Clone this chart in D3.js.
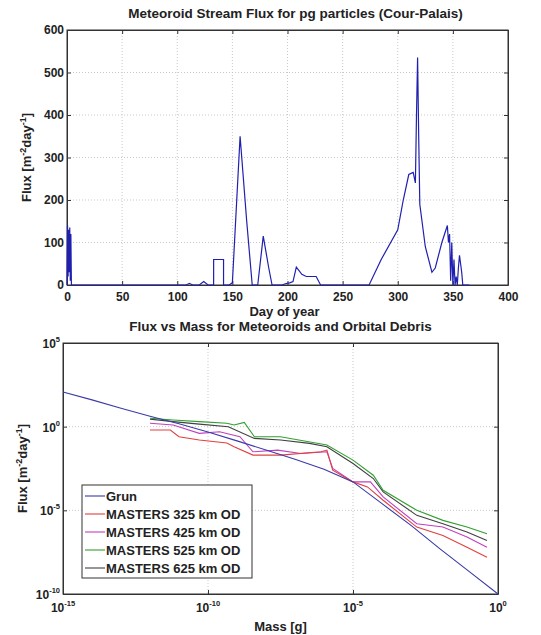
<!DOCTYPE html>
<html><head><meta charset="utf-8">
<script src="https://cdn.jsdelivr.net/npm/d3@7"></script>
<style>
body{margin:0;background:#fff;}
text{font-family:"Liberation Sans",Arial,sans-serif;font-weight:bold;fill:#222;}
</style></head>
<body><svg id="c" width="541" height="635"></svg>
<script>
// ---- Top chart data: meteoroid stream flux ----
const streamDays = [0,0.5,1,1.5,2,2.5,3,3.5,4,
 108,111,114,120,124,128,
 133,133,142,142,
 147,150,157,163,168,
 173,178,183,186,
 195,198,202,205,208,213,217,226,230,
 274,285,300,305,310,314,316,317,318,319,320,325,331,334,340,345,346,347,348,349,350,351,352,353,354,355,356,357,358,359,365];
const streamFlux = [0,140,20,130,30,135,10,120,0,
 0,4,0,0,8,0,
 0,60,60,0,
 0,5,350,150,0,
 0,115,40,0,
 0,3,5,8,42,25,20,20,0,
 0,60,130,200,260,265,240,400,535,350,190,90,30,40,100,140,100,120,10,100,0,60,0,20,0,40,70,50,30,0,0];
const dayTicks = [0,50,100,150,200,250,300,350,400];
const fluxTicks = [0,100,200,300,400,500,600];

// ---- Bottom chart data: flux vs mass (log10 values) ----
const seriesNames = ["Grun","MASTERS 325 km OD","MASTERS 425 km OD","MASTERS 525 km OD","MASTERS 625 km OD"];
const grunLogMass = [-15,-14,-13,-12,-11,-10,-9,-8,-7,-6,-5,-4,-3,-2,-1,0];
const grunLogFlux = [2.07,1.6,1.1,0.62,0.17,-0.32,-0.85,-1.4,-1.95,-2.55,-3.3,-4.6,-5.9,-7.3,-8.65,-10];
const m325LogMass = [-12,-11.3,-11.0,-10.3,-9.35,-9.1,-8.45,-7.5,-6.1,-5.9,-5.7,-5,-4.5,-3.96,-2.8,-1.9,-1.07,-0.38];
const m325LogFlux = [-0.2,-0.2,-0.6,-0.8,-0.98,-1.2,-1.7,-1.7,-1.5,-1.4,-2.6,-3.3,-3.6,-4.4,-6.0,-6.5,-7.2,-7.8];
const m425LogMass = [-12,-11.2,-10.3,-9.6,-8.9,-8.45,-7.6,-6.8,-5.9,-5.7,-5,-4.4,-3.96,-2.8,-1.9,-1.07,-0.38];
const m425LogFlux = [0.2,0.1,-0.4,-0.3,-0.6,-1.5,-1.4,-1.6,-1.5,-2.5,-3.3,-3.3,-4.2,-5.8,-6.0,-6.6,-7.2];
const m525LogMass = [-12,-11.2,-10.3,-9.35,-9.1,-8.75,-8.4,-7.5,-5.9,-5,-4.3,-3.96,-2.8,-1.9,-1.07,-0.38];
const m525LogFlux = [0.5,0.4,0.3,0.2,0.1,0.25,-0.6,-0.6,-1.1,-2.0,-2.9,-3.8,-5.0,-5.6,-6.0,-6.4];
const m625LogMass = [-12,-11.2,-10.3,-9.3,-8.4,-7.5,-6.5,-5.9,-5,-4.3,-3.96,-2.8,-1.9,-1.07,-0.38];
const m625LogFlux = [0.45,0.3,0.15,0.0,-0.7,-0.8,-1.0,-1.2,-2.2,-3.1,-3.9,-5.3,-5.8,-6.3,-6.8];
const massTickExp = [-15,-10,-5,0];
const fluxTickExp = [5,0,-5,-10];

const svg = d3.select("#c");
const TICK_FS = 12, LABEL_FS = 13, TITLE_FS = 13.5;

// ================= TOP CHART =================
const T = {l:67, r:508, t:30, b:285};
const xT = d3.scaleLinear().domain([0,400]).range([T.l,T.r]);
const yT = d3.scaleLinear().domain([0,600]).range([T.b,T.t]);
const gT = svg.append("g");
gT.selectAll(".gx").data(dayTicks.slice(1,-1)).enter().append("line")
 .attr("x1",d=>xT(d)).attr("x2",d=>xT(d)).attr("y1",T.t).attr("y2",T.b)
 .attr("stroke","#bbb").attr("stroke-dasharray","1,2").attr("stroke-width",0.8);
gT.selectAll(".gy").data(fluxTicks.slice(1,-1)).enter().append("line")
 .attr("y1",d=>yT(d)).attr("y2",d=>yT(d)).attr("x1",T.l).attr("x2",T.r)
 .attr("stroke","#bbb").attr("stroke-dasharray","1,2").attr("stroke-width",0.8);
gT.append("g").attr("transform",`translate(0,${T.b})`)
 .call(d3.axisBottom(xT).tickValues(dayTicks).tickSizeInner(-4).tickSizeOuter(0).tickPadding(7));
gT.append("g").attr("transform",`translate(0,${T.t})`)
 .call(d3.axisTop(xT).tickValues(dayTicks).tickSizeInner(-4).tickSizeOuter(0).tickFormat(""));
gT.append("g").attr("transform",`translate(${T.l},0)`)
 .call(d3.axisLeft(yT).tickValues(fluxTicks).tickSizeInner(-4).tickSizeOuter(0).tickPadding(3));
gT.append("g").attr("transform",`translate(${T.r},0)`)
 .call(d3.axisRight(yT).tickValues(fluxTicks).tickSizeInner(-4).tickSizeOuter(0).tickFormat(""));
gT.append("rect").attr("x",T.l).attr("y",T.t).attr("width",T.r-T.l).attr("height",T.b-T.t)
 .attr("fill","none").attr("stroke","#333");
const streamPts = streamDays.map((d,i)=>[d,streamFlux[i]]);
gT.append("path").datum(streamPts)
 .attr("d",d3.line().x(d=>xT(d[0])).y(d=>yT(d[1])))
 .attr("fill","none").attr("stroke","#2020b0").attr("stroke-width",1.2);
svg.append("text").attr("x",(T.l+T.r)/2+8).attr("y",18).attr("text-anchor","middle")
 .attr("font-size",TITLE_FS).text("Meteoroid Stream Flux for pg particles (Cour-Palais)");
svg.append("text").attr("x",(T.l+T.r)/2-3).attr("y",316).attr("text-anchor","middle")
 .attr("font-size",LABEL_FS).text("Day of year");
function fluxLabel(x,y){
 const t = svg.append("text").attr("transform",`translate(${x},${y}) rotate(-90)`)
  .attr("text-anchor","middle").attr("font-size",LABEL_FS);
 t.append("tspan").text("Flux [m");
 t.append("tspan").attr("font-size",9).attr("dy",-5).text("-2");
 t.append("tspan").attr("dy",5).text("day");
 t.append("tspan").attr("font-size",9).attr("dy",-5).text("-1");
 t.append("tspan").attr("dy",5).text("]");
}
fluxLabel(31,(T.t+T.b)/2);

// ================= BOTTOM CHART =================
const B = {l:63, r:498, t:343, b:594};
const xB = d3.scaleLinear().domain([-15,0]).range([B.l,B.r]);
const yB = d3.scaleLinear().domain([-10,5]).range([B.b,B.t]);
const gB = svg.append("g");
[-10,-5].forEach(e=>{
 gB.append("line").attr("x1",xB(e)).attr("x2",xB(e)).attr("y1",B.t).attr("y2",B.b)
  .attr("stroke","#bbb").attr("stroke-dasharray","1,2").attr("stroke-width",0.8);
});
[0,-5].forEach(e=>{
 gB.append("line").attr("y1",yB(e)).attr("y2",yB(e)).attr("x1",B.l).attr("x2",B.r)
  .attr("stroke","#bbb").attr("stroke-dasharray","1,2").attr("stroke-width",0.8);
});
gB.append("g").attr("transform",`translate(0,${B.b})`)
 .call(d3.axisBottom(xB).tickValues(massTickExp).tickSizeInner(-4).tickSizeOuter(0).tickFormat(""));
gB.append("g").attr("transform",`translate(0,${B.t})`)
 .call(d3.axisTop(xB).tickValues(massTickExp).tickSizeInner(-4).tickSizeOuter(0).tickFormat(""));
gB.append("g").attr("transform",`translate(${B.l},0)`)
 .call(d3.axisLeft(yB).tickValues(fluxTickExp).tickSizeInner(-4).tickSizeOuter(0).tickFormat(""));
gB.append("g").attr("transform",`translate(${B.r},0)`)
 .call(d3.axisRight(yB).tickValues(fluxTickExp).tickSizeInner(-4).tickSizeOuter(0).tickFormat(""));
gB.append("rect").attr("x",B.l).attr("y",B.t).attr("width",B.r-B.l).attr("height",B.b-B.t)
 .attr("fill","none").attr("stroke","#333");
svg.selectAll(".domain").attr("stroke","#333");
svg.selectAll(".tick line").attr("stroke","#333");
svg.selectAll(".tick text").attr("font-size",TICK_FS).attr("font-family","Liberation Sans, Arial, sans-serif").attr("font-weight","bold").attr("fill","#222");

massTickExp.forEach(e=>{
 const t = svg.append("text").attr("x",xB(e)).attr("y",B.b+18).attr("text-anchor","middle").attr("font-size",TICK_FS);
 t.append("tspan").text("10");
 t.append("tspan").attr("font-size",7.5).attr("dy",-6).text(e);
});
fluxTickExp.forEach(e=>{
 const t = svg.append("text").attr("x",B.l-3).attr("y",yB(e)+5).attr("text-anchor","end").attr("font-size",TICK_FS);
 t.append("tspan").text("10");
 t.append("tspan").attr("font-size",7.5).attr("dy",-6).text(e);
});

const series = [
 {name:seriesNames[0], m:grunLogMass, f:grunLogFlux, c:"#3a3aa8"},
 {name:seriesNames[1], m:m325LogMass, f:m325LogFlux, c:"#e04040"},
 {name:seriesNames[2], m:m425LogMass, f:m425LogFlux, c:"#c040c0"},
 {name:seriesNames[3], m:m525LogMass, f:m525LogFlux, c:"#30a030"},
 {name:seriesNames[4], m:m625LogMass, f:m625LogFlux, c:"#404040"}
];
const lineB = d3.line().x(d=>xB(d[0])).y(d=>yB(d[1]));
series.slice().reverse().forEach(s=>{
 gB.append("path").datum(s.m.map((v,i)=>[v,s.f[i]]))
  .attr("d",lineB).attr("fill","none").attr("stroke",s.c).attr("stroke-width",1.1);
});
svg.append("text").attr("x",(B.l+B.r)/2).attr("y",331).attr("text-anchor","middle")
 .attr("font-size",TITLE_FS).text("Flux vs Mass for Meteoroids and Orbital Debris");
svg.append("text").attr("x",(B.l+B.r)/2).attr("y",631).attr("text-anchor","middle")
 .attr("font-size",LABEL_FS).text("Mass [g]");
fluxLabel(27,(B.t+B.b)/2);

// legend
const L = {x:82, y:485, w:170, h:93};
const gL = svg.append("g");
gL.append("rect").attr("x",L.x).attr("y",L.y).attr("width",L.w).attr("height",L.h)
 .attr("fill","#fff").attr("stroke","#333");
series.forEach((s,i)=>{
 const yy = L.y+11+i*18;
 gL.append("line").attr("x1",L.x+3).attr("x2",L.x+23).attr("y1",yy).attr("y2",yy)
  .attr("stroke",s.c).attr("stroke-width",1.1);
 gL.append("text").attr("x",L.x+24).attr("y",yy+5).attr("font-size",13).text(s.name);
});
</script></body></html>
